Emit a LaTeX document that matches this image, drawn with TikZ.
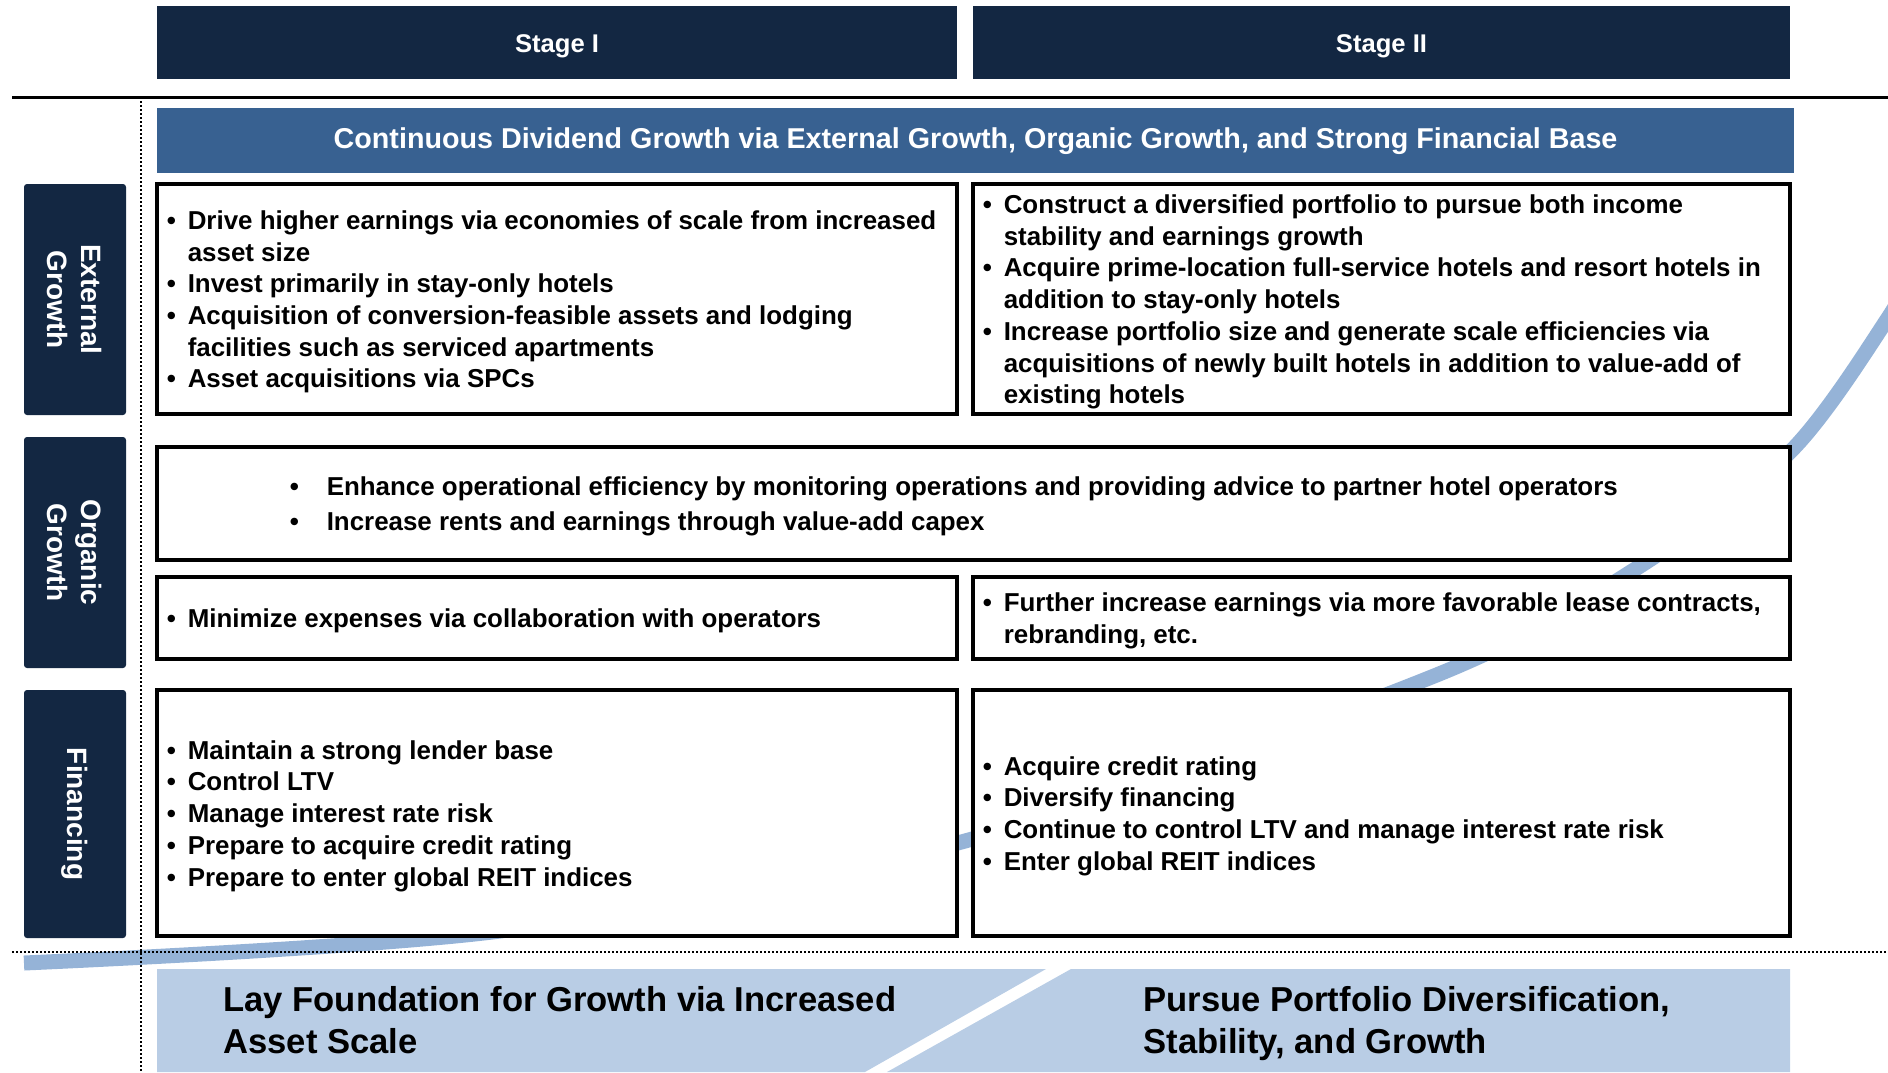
\documentclass[tikz,border=0pt]{standalone}
\usepackage{fontspec}
\setmainfont{Liberation Sans}
\usetikzlibrary{positioning}

\definecolor{navy}{RGB}{19,39,66}
\definecolor{bannerblue}{RGB}{56,97,145}
\definecolor{paleblue}{RGB}{185,205,229}
\definecolor{arcblue}{RGB}{149,179,215}

\newcommand{\bu}{\makebox[10.5pt][l]{\textbullet}}
\newcommand{\ind}{\hspace*{10.5pt}}
\newcommand{\bw}{\makebox[18.5pt][l]{\textbullet}}

\begin{document}
\begin{tikzpicture}[
    x=0.5pt, y=-0.5pt,
    hdr/.style={fill=navy, text=white, minimum height=36.5pt, inner sep=0pt,
                text height=10pt, text depth=0pt,
                font=\fontsize{12.8}{15}\selectfont\bfseries},
    side/.style={fill=navy, text=white, rounded corners=1.5pt, rotate=-90,
                 minimum height=51pt, align=center, inner sep=0pt,
                 font=\fontsize{14}{17}\selectfont\bfseries},
    goalbar/.style={fill=bannerblue, text=white, minimum width=818.5pt,
                    minimum height=32.5pt, inner sep=0pt,
                    text height=8.3pt, text depth=0pt,
                    font=\fontsize{14.35}{17}\selectfont\bfseries},
    cell/.style={draw=black, line width=1.6pt, fill=white, inner sep=0pt},
    txt/.style={align=left, inner sep=0pt, yshift=-1.5pt,
                font=\fontsize{12.95}{15.85}\selectfont\bfseries},
    big/.style={align=left, inner sep=0pt, anchor=base west,
                font=\fontsize{17.3}{21}\selectfont\bfseries},
    arcband/.style={draw=arcblue, line width=7.5pt},
    dots/.style={line width=1pt, dash pattern=on 1pt off 1pt}
]
    \useasboundingbox (0,0) rectangle (1888,1072);

    \begin{scope}
        \clip (0,0) rectangle (1888,1072);
        \draw[arcband] plot[smooth] coordinates {(24,963) (500,931) (965,841)
            (1439,674) (1637,568) (1790,452) (1888,318) (1940,225)};
    \end{scope}

    \draw[line width=1.5pt] (12,97) -- (1888,97);
    \draw[dots] (141,97) -- (141,1072);
    \draw[dots] (12,952) -- (1888,952);

    \node[hdr, minimum width=400pt] (st1) at (557,42.5) {Stage I};
    \node[hdr, minimum width=408.5pt] (st2) at (1381.5,42.5) {Stage II};

    \node[goalbar] (goal) at (975.5,140.5)
        {Continuous Dividend Growth via External Growth, Organic Growth, and Strong Financial Base};

    \node[side, minimum width=115.5pt] (lext) at (75,299.5) {External\\Growth};
    \node[side, minimum width=115.5pt] (lorg) at (75,552.5) {Organic\\Growth};
    \node[side, minimum width=124pt] (lfin) at (75,814) {Financing};

    \node[cell, minimum width=400pt, minimum height=115pt] (ext1) at (557,299) {};
    \node[cell, minimum width=408.5pt, minimum height=115pt] (ext2) at (1381.5,299) {};
    \node[cell, minimum width=816.5pt, minimum height=56.5pt] (org) at (973.5,503.5) {};
    \node[cell, minimum width=400pt, minimum height=41pt] (org1) at (557,618) {};
    \node[cell, minimum width=408.5pt, minimum height=41pt] (org2) at (1381.5,618) {};
    \node[cell, minimum width=400pt, minimum height=123pt] (fin1) at (557,813) {};
    \node[cell, minimum width=408.5pt, minimum height=123pt] (fin2) at (1381.5,813) {};

    \node[txt, right=5.5pt of ext1.west] (ext1t)
        {\bu Drive higher earnings via economies of scale from increased\\
         \ind asset size\\
         \bu Invest primarily in stay-only hotels\\
         \bu Acquisition of conversion-feasible assets and lodging\\
         \ind facilities such as serviced apartments\\
         \bu Asset acquisitions via SPCs};
    \node[txt, right=5.5pt of ext2.west] (ext2t)
        {\bu Construct a diversified portfolio to pursue both income\\
         \ind stability and earnings growth\\
         \bu Acquire prime-location full-service hotels and resort hotels in\\
         \ind addition to stay-only hotels\\
         \bu Increase portfolio size and generate scale efficiencies via\\
         \ind acquisitions of newly built hotels in addition to value-add of\\
         \ind existing hotels};
    \node[txt, right=67pt of org.west, font=\fontsize{12.95}{17.5}\selectfont\bfseries] (orgt)
        {\bw Enhance operational efficiency by monitoring operations and providing advice to partner hotel operators\\
         \bw Increase rents and earnings through value-add capex};
    \node[txt, right=5.5pt of org1.west] (org1t)
        {\bu Minimize expenses via collaboration with operators};
    \node[txt, right=5.5pt of org2.west] (org2t)
        {\bu Further increase earnings via more favorable lease contracts,\\
         \ind rebranding, etc.};
    \node[txt, right=5.5pt of fin1.west] (fin1t)
        {\bu Maintain a strong lender base\\
         \bu Control LTV\\
         \bu Manage interest rate risk\\
         \bu Prepare to acquire credit rating\\
         \bu Prepare to enter global REIT indices};
    \node[txt, right=5.5pt of fin2.west] (fin2t)
        {\bu Acquire credit rating\\
         \bu Diversify financing\\
         \bu Continue to control LTV and manage interest rate risk\\
         \bu Enter global REIT indices};

    \fill[paleblue] (157,969) -- (1046,969) -- (865,1072) -- (157,1072) -- cycle;
    \fill[paleblue] (1071,969) -- (1790,969) -- (1790,1072) -- (887,1072) -- cycle;
    \node[big] (aim1) at (223,1053) {Lay Foundation for Growth via Increased\\Asset Scale};
    \node[big] (aim2) at (1143,1053) {Pursue Portfolio Diversification,\\Stability, and Growth};
\end{tikzpicture}
\end{document}
